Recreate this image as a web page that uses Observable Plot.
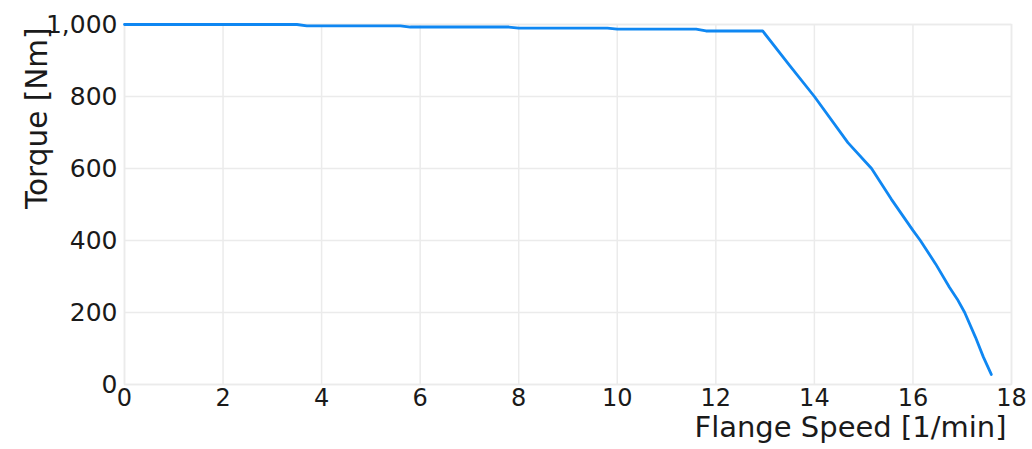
<!DOCTYPE html>
<html>
<head>
<meta charset="utf-8">
<script src="https://cdn.jsdelivr.net/npm/d3@7"></script>
<script src="https://cdn.jsdelivr.net/npm/@observablehq/plot@0.6"></script>
<style>
  html, body { margin: 0; padding: 0; background: #fff; }
  #chart { width: 1032px; height: 449px; }
</style>
</head>
<body>
<div id="chart"></div>
<script>
const speed  = [0, 3.5, 3.7, 5.6, 5.8, 7.8, 8.0, 9.8, 10.0, 11.6, 11.8, 12.95, 13.5, 14.0, 14.68, 15.16, 15.56, 16.0, 16.15, 16.46, 16.74, 16.9, 17.05, 17.27, 17.43, 17.59];
const torque = [1000, 1000, 996, 996, 993, 993, 990, 990, 987, 987, 982, 982, 886, 800, 672, 600, 515, 428, 400, 335, 270, 237, 200, 131, 76, 28];
const xTicks = [0, 2, 4, 6, 8, 10, 12, 14, 16, 18];
const yTicks = [0, 200, 400, 600, 800, 1000];
const xLabel = "Flange Speed [1/min]";
const yLabel = "Torque [Nm]";

const data = speed.map((s, i) => ({speed: s, torque: torque[i]}));
const font = "DejaVu Sans, sans-serif";
const gridColor = "#ebebeb";

const chart = Plot.plot({
  width: 1032,
  height: 449,
  marginLeft: 124,
  marginRight: 21,
  marginTop: 24,
  marginBottom: 65,
  style: {fontFamily: font, fontSize: "25px", color: "#1a1a1a", background: "#fff"},
  x: {domain: [0, 18], label: null},
  y: {domain: [0, 1000], label: null},
  marks: [
    Plot.gridX(xTicks, {stroke: gridColor, strokeOpacity: 1, strokeWidth: 1.5}),
    Plot.gridY(yTicks, {stroke: gridColor, strokeOpacity: 1, strokeWidth: 1.5}),
    Plot.frame({stroke: gridColor, strokeWidth: 1.5}),
    Plot.axisX(xTicks, {tickSize: 0, tickPadding: 4, fontSize: 24, fill: "#1a1a1a", label: null}),
    Plot.axisY(yTicks, {tickSize: 0, tickPadding: 7, fontSize: 25, fill: "#1a1a1a", tickFormat: d3.format(","), label: null}),
    Plot.line(data, {x: "speed", y: "torque", stroke: "#0f87f2", strokeWidth: 2.8}),
    Plot.text([xLabel], {frameAnchor: "bottom-right", textAnchor: "end", dy: 52, dx: -5, fontSize: 29, fill: "#1a1a1a"}),
    Plot.text([yLabel], {frameAnchor: "top-left", rotate: -90, textAnchor: "end", dx: -98, dy: 3, fontSize: 29.5, fill: "#1a1a1a"})
  ]
});
document.getElementById("chart").appendChild(chart);
</script>
</body>
</html>
